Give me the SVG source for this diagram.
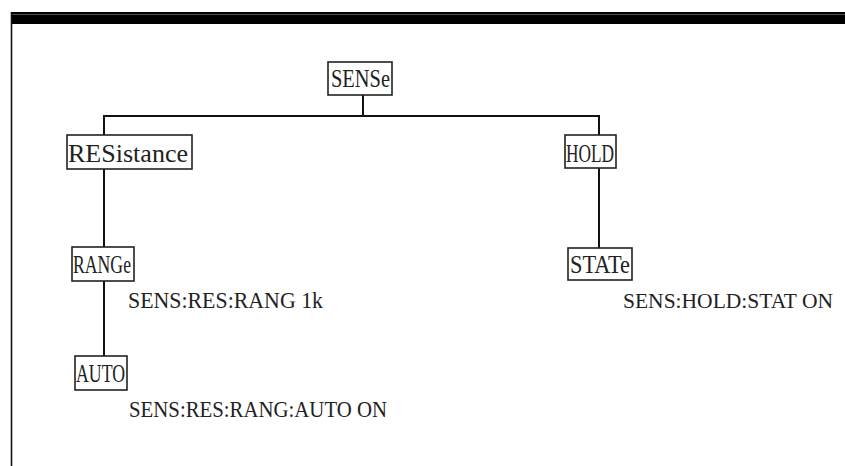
<svg xmlns="http://www.w3.org/2000/svg" width="845" height="466" viewBox="0 0 845 466">
<style>
.box{fill:#fff;stroke:#222;stroke-width:1.6}
.t{font-family:"Liberation Serif","DejaVu Serif",serif;font-size:25px;fill:#222}
.s{font-size:23px}
.c{stroke:#111;stroke-width:2;fill:none}
</style>
<rect x="0" y="0" width="845" height="466" fill="#fff"/>
<g id="frame">
<rect x="11" y="12" width="834" height="12" fill="#000"/>
<line x1="11" y1="14.5" x2="845" y2="14.5" stroke="#666" stroke-width="0.8"/>
<line x1="11.5" y1="12" x2="11.5" y2="466" stroke="#111" stroke-width="1.6"/>
</g>
<g id="connectors">
<line class="c" x1="363" y1="95" x2="363" y2="116"/>
<line class="c" x1="103" y1="116" x2="600" y2="116"/>
<line class="c" x1="104" y1="116" x2="104" y2="135"/>
<line class="c" x1="104" y1="169" x2="104" y2="247"/>
<line class="c" x1="104" y1="281" x2="104" y2="356"/>
<line class="c" x1="599" y1="116" x2="599" y2="135"/>
<line class="c" x1="599" y1="168" x2="599" y2="248"/>
</g>
<g id="SENSe">
<rect class="box" x="328" y="62" width="64" height="33"/>
<text class="t" x="331" y="87" textLength="59" lengthAdjust="spacingAndGlyphs">SENSe</text>
</g>
<g id="RESistance">
<rect class="box" x="67" y="135" width="125" height="34"/>
<text class="t" x="68" y="162" textLength="120" lengthAdjust="spacingAndGlyphs">RESistance</text>
</g>
<g id="HOLD">
<rect class="box" x="565" y="135" width="51" height="33"/>
<text class="t" x="566" y="162" textLength="48" lengthAdjust="spacingAndGlyphs">HOLD</text>
</g>
<g id="RANGe">
<rect class="box" x="72" y="247" width="62" height="34"/>
<text class="t" x="73" y="273" textLength="58" lengthAdjust="spacingAndGlyphs">RANGe</text>
</g>
<g id="STATe">
<rect class="box" x="568" y="248" width="64" height="32"/>
<text class="t" x="570" y="273" textLength="60" lengthAdjust="spacingAndGlyphs">STATe</text>
</g>
<g id="AUTO">
<rect class="box" x="75" y="356" width="52" height="34"/>
<text class="t" x="76" y="382" textLength="49" lengthAdjust="spacingAndGlyphs">AUTO</text>
</g>
<g id="labels">
<text class="t s" x="128" y="308" textLength="195" lengthAdjust="spacingAndGlyphs">SENS:RES:RANG 1k</text>
<text class="t" x="623" y="308" style="font-size:21px" textLength="210" lengthAdjust="spacingAndGlyphs">SENS:HOLD:STAT ON</text>
<text class="t s" x="129" y="417" textLength="258" lengthAdjust="spacingAndGlyphs">SENS:RES:RANG:AUTO ON</text>
</g>
</svg>
